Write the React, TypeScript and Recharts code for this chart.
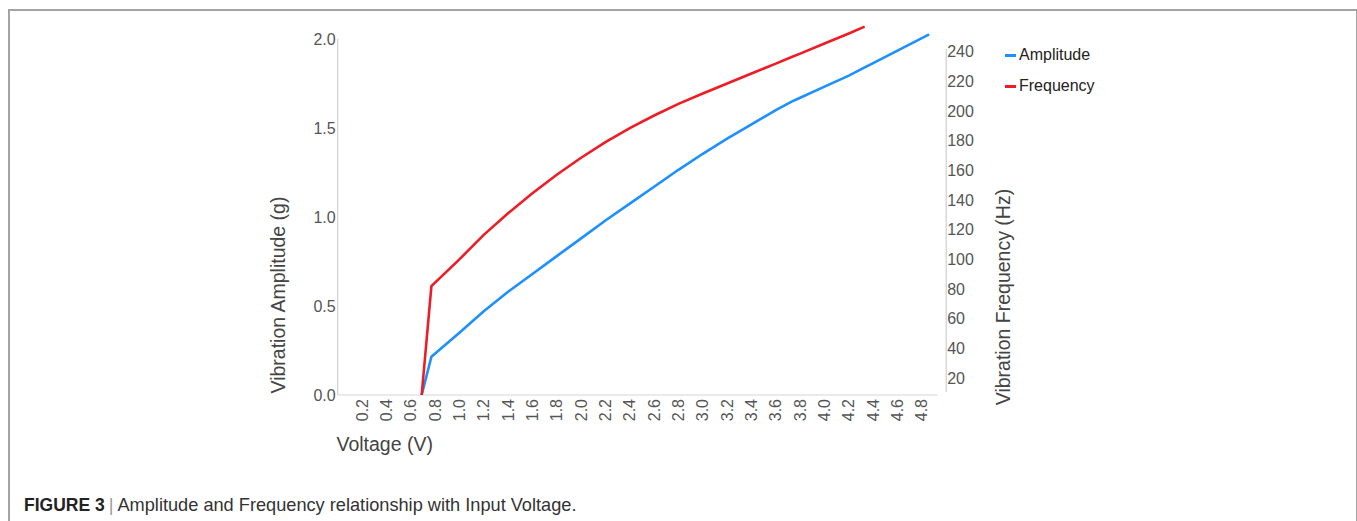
import { Label, Line, LineChart, ReferenceLine, XAxis, YAxis } from "recharts";

// values (V, g, Hz)
const voltage = [0.69, 0.77, 1.0, 1.2, 1.4, 1.6, 1.8, 2.0, 2.2, 2.4, 2.6, 2.8, 3.0, 3.2, 3.4, 3.6, 3.73, 3.8, 4.0, 4.2, 4.33, 4.4, 4.6, 4.86];
const amplitude = [0, 0.215, 0.35, 0.47, 0.58, 0.68, 0.78, 0.88, 0.98, 1.075, 1.17, 1.265, 1.355, 1.44, 1.52, 1.6, 1.648, 1.67, 1.732, 1.794, 1.84, 1.864, 1.934, 2.026];
const frequency = [8.5, 82, 100, 116.5, 131, 144.5, 157, 168.5, 179, 188.5, 197, 204.8, 211.8, 218.6, 225.3, 232, 236.4, 238.7, 245.5, 252.3, 256.9, null, null, null];

const xTicks = [0.2, 0.4, 0.6, 0.8, 1.0, 1.2, 1.4, 1.6, 1.8, 2.0, 2.2, 2.4, 2.6, 2.8, 3.0, 3.2, 3.4, 3.6, 3.8, 4.0, 4.2, 4.4, 4.6, 4.8];
const ampTicks = [0, 0.5, 1.0, 1.5, 2.0];
const freqTicks = [20, 40, 60, 80, 100, 120, 140, 160, 180, 200, 220, 240];

const rows = voltage.map((v, i) => ({ v, amp: amplitude[i], freq: frequency[i] }));

const FONT = "'Liberation Sans', Arial, sans-serif";
const BLUE = "#1e8fff";
const RED = "#ee1c25";
const TICK = "#555";
const TITLE = "#444";

const XTick = ({ x, y, payload }: any) => (
  <text
    x={x}
    y={y}
    transform={`rotate(-90, ${x}, ${y})`}
    textAnchor="end"
    dominantBaseline="central"
    fontSize={16}
    fontFamily={FONT}
    fill={TICK}
  >
    {payload.value.toFixed(1)}
  </text>
);

const title = (text: string, dx: number, dy: number, rotate: boolean) => (props: any) => {
  const { x, y } = props.viewBox;
  const cx = x + dx;
  const cy = y + dy;
  return (
    <text
      x={cx}
      y={cy}
      transform={rotate ? `rotate(-90, ${cx}, ${cy})` : undefined}
      textAnchor="middle"
      dominantBaseline="central"
      fontSize={19.5}
      fontFamily={FONT}
      fill={TITLE}
    >
      {text}
    </text>
  );
};

export default function App() {
  return (
    <div style={{ position: "absolute", left: 0, top: 0, width: 1357, height: 521, background: "#fff", fontFamily: FONT }}>
      {/* figure frame: top, left and right rules */}
      <div style={{ position: "absolute", left: 8, top: 9, width: 1346, height: 530, borderTop: "2px solid #a3a3a3", borderLeft: "2px solid #a3a3a3", borderRight: "2px solid #a3a3a3" }} />

      <div style={{ position: "absolute", left: 0, top: 0 }}>
        <LineChart width={1357} height={521} data={rows} margin={{ top: 24, right: 350.8, bottom: 66, left: 277.7 }}>
          <XAxis
            type="number"
            dataKey="v"
            domain={[0, 5]}
            ticks={xTicks}
            interval={0}
            height={60}
            axisLine={false}
            tickLine={false}
            tickSize={0}
            tickMargin={4}
            tick={<XTick />}
          >
            <Label content={title("Voltage (V)", 47, 49, false)} />
          </XAxis>
          <YAxis
            yAxisId="left"
            domain={[0, 2.084]}
            ticks={ampTicks}
            width={60}
            axisLine={false}
            tickLine={false}
            tickSize={0}
            tickMargin={2}
            tickFormatter={(v: number) => v.toFixed(1)}
            tick={{ fontSize: 16, fill: TICK, fontFamily: FONT }}
          >
            <Label content={title("Vibration Amplitude (g)", 0, 271, true)} />
          </YAxis>
          <YAxis
            yAxisId="right"
            orientation="right"
            domain={[8.5, 258.7]}
            ticks={freqTicks}
            width={60}
            axisLine={false}
            tickLine={false}
            tickSize={0}
            tickMargin={1}
            tick={{ fontSize: 16, fill: TICK, fontFamily: FONT, textAnchor: "start" }}
          >
            <Label content={title("Vibration Frequency (Hz)", 57, 273, true)} />
          </YAxis>

          {/* axis rules, drawn to the lengths seen in the figure */}
          <ReferenceLine yAxisId="left" segment={[{ x: 0, y: 0 }, { x: 4.93, y: 0 }]} stroke="#d6d6d6" strokeWidth={1.2} />
          <ReferenceLine yAxisId="left" segment={[{ x: 0, y: 0 }, { x: 0, y: 2.0 }]} stroke="#d0d0d0" strokeWidth={1.2} />
          <ReferenceLine yAxisId="right" segment={[{ x: 5, y: 10.6 }, { x: 5, y: 241.8 }]} stroke="#d0d0d0" strokeWidth={1.2} />

          <Line yAxisId="left" type="linear" dataKey="amp" stroke={BLUE} strokeWidth={2.6} dot={false} isAnimationActive={false} />
          <Line yAxisId="right" type="linear" dataKey="freq" stroke={RED} strokeWidth={2.6} dot={false} isAnimationActive={false} />
        </LineChart>
      </div>

      {/* legend */}
      <div style={{ position: "absolute", left: 1005, top: 45, fontSize: 16, color: "#222", lineHeight: "20px" }}>
        <div style={{ display: "flex", alignItems: "center", height: 20 }}>
          <span style={{ display: "inline-block", width: 11, height: 3, background: BLUE, marginRight: 3 }} />
          Amplitude
        </div>
        <div style={{ display: "flex", alignItems: "center", height: 20, marginTop: 11 }}>
          <span style={{ display: "inline-block", width: 11, height: 3, background: RED, marginRight: 3 }} />
          Frequency
        </div>
      </div>

      {/* caption */}
      <div style={{ position: "absolute", left: 24, top: 493, fontSize: 18.2, color: "#333", whiteSpace: "nowrap", lineHeight: "24px" }}>
        <b style={{ color: "#222", fontSize: 17.5 }}>FIGURE 3</b>
        <span style={{ color: "#999", margin: "0 4px" }}>|</span>
        Amplitude and Frequency relationship with Input Voltage.
      </div>
    </div>
  );
}
